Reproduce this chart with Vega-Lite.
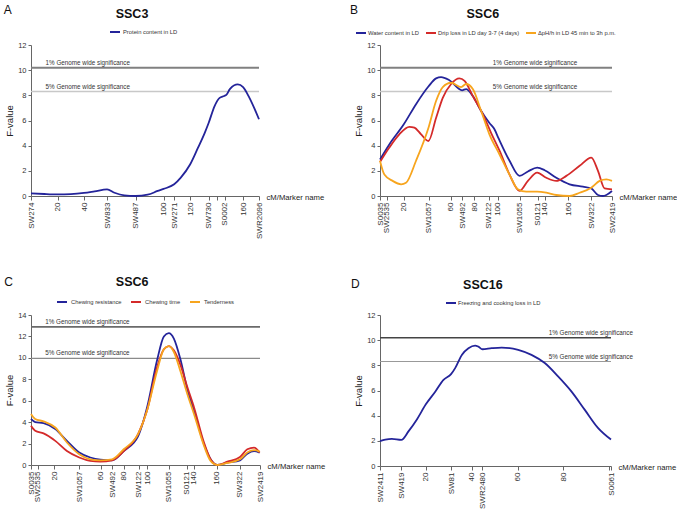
{
"$schema": "https://vega.github.io/schema/vega-lite/v6.json",
"padding": {"left": 3, "top": 3, "right": 0, "bottom": 0},
"bounds": "flush",
"columns": 2,
"spacing": {"row": 119, "column": 120},
"resolve": {"scale": {"color": "independent"}, "legend": {"color": "independent"}},
"config": {
  "font": "Liberation Sans",
  "view": {"stroke": null},
  "axis": {"grid": false, "domainColor": "#666", "tickColor": "#666", "labelColor": "#333", "titleColor": "#222", "titleFontWeight": "normal", "labelFontSize": 7.5, "tickSize": 3, "labelOverlap": false, "format": "d"},
  "axisX": {"labelAngle": 270, "labelFontSize": 8, "tickSize": 4, "labelPadding": 2, "titleFontSize": 7.7, "titleAngle": 0, "titleAlign": "left", "titleBaseline": "middle", "titleY": 1, "labelOverlap": false, "labelFlush": false, "format": "d"},
  "axisY": {"titleFontSize": 9.5, "titlePadding": 3, "labelPadding": 2, "format": "d"},
  "legend": {"labelFontSize": 5.8, "labelColor": "#333", "symbolType": "stroke", "symbolStrokeWidth": 2, "symbolSize": 100, "padding": 0, "orient": "none", "direction": "horizontal"}
},
"datasets": {
"thr": [
 {"p":"A","lv":"1%","F":10.2,"label":"1% Genome wide significance"},
 {"p":"A","lv":"5%","F":8.3,"label":"5% Genome wide significance"},
 {"p":"B","lv":"1%","F":10.2,"label":"1% Genome wide significance"},
 {"p":"B","lv":"5%","F":8.3,"label":"5% Genome wide significance"},
 {"p":"C","lv":"1%","F":12.9,"label":"1% Genome wide significance"},
 {"p":"C","lv":"5%","F":9.95,"label":"5% Genome wide significance"},
 {"p":"D","lv":"1%","F":10.2,"label":"1% Genome wide significance"},
 {"p":"D","lv":"5%","F":8.3,"label":"5% Genome wide significance"}
],
"curves": [
 {"p":"A","t":"Protein content in LD","cM":0,"F":0.21},
 {"p":"A","t":"Protein content in LD","cM":10,"F":0.16},
 {"p":"A","t":"Protein content in LD","cM":20,"F":0.13},
 {"p":"A","t":"Protein content in LD","cM":30,"F":0.15},
 {"p":"A","t":"Protein content in LD","cM":40,"F":0.24},
 {"p":"A","t":"Protein content in LD","cM":48,"F":0.37},
 {"p":"A","t":"Protein content in LD","cM":57.4,"F":0.53},
 {"p":"A","t":"Protein content in LD","cM":63,"F":0.26},
 {"p":"A","t":"Protein content in LD","cM":70.4,"F":0.05},
 {"p":"A","t":"Protein content in LD","cM":79,"F":0},
 {"p":"A","t":"Protein content in LD","cM":88,"F":0.1},
 {"p":"A","t":"Protein content in LD","cM":95.6,"F":0.4},
 {"p":"A","t":"Protein content in LD","cM":100,"F":0.56},
 {"p":"A","t":"Protein content in LD","cM":108,"F":0.93},
 {"p":"A","t":"Protein content in LD","cM":113,"F":1.46},
 {"p":"A","t":"Protein content in LD","cM":120,"F":2.5},
 {"p":"A","t":"Protein content in LD","cM":126,"F":3.84},
 {"p":"A","t":"Protein content in LD","cM":131,"F":5.0},
 {"p":"A","t":"Protein content in LD","cM":134,"F":5.8},
 {"p":"A","t":"Protein content in LD","cM":138.5,"F":7.15},
 {"p":"A","t":"Protein content in LD","cM":142.3,"F":7.8},
 {"p":"A","t":"Protein content in LD","cM":145.7,"F":7.95},
 {"p":"A","t":"Protein content in LD","cM":147.5,"F":8.05},
 {"p":"A","t":"Protein content in LD","cM":150,"F":8.5},
 {"p":"A","t":"Protein content in LD","cM":156,"F":8.87},
 {"p":"A","t":"Protein content in LD","cM":160,"F":8.66},
 {"p":"A","t":"Protein content in LD","cM":164.8,"F":7.8},
 {"p":"A","t":"Protein content in LD","cM":172,"F":6.1},

 {"p":"B","t":"Water content in LD","cM":0,"F":2.9},
 {"p":"B","t":"Water content in LD","cM":7.9,"F":4.1},
 {"p":"B","t":"Water content in LD","cM":20.2,"F":5.7},
 {"p":"B","t":"Water content in LD","cM":30.6,"F":7.3},
 {"p":"B","t":"Water content in LD","cM":41.1,"F":8.7},
 {"p":"B","t":"Water content in LD","cM":47.6,"F":9.35},
 {"p":"B","t":"Water content in LD","cM":51.9,"F":9.45},
 {"p":"B","t":"Water content in LD","cM":58.9,"F":9.2},
 {"p":"B","t":"Water content in LD","cM":69.7,"F":8.4},
 {"p":"B","t":"Water content in LD","cM":73.1,"F":8.5},
 {"p":"B","t":"Water content in LD","cM":78.8,"F":7.95},
 {"p":"B","t":"Water content in LD","cM":85.9,"F":6.75},
 {"p":"B","t":"Water content in LD","cM":92.9,"F":5.8},
 {"p":"B","t":"Water content in LD","cM":97.2,"F":5.3},
 {"p":"B","t":"Water content in LD","cM":100.6,"F":4.6},
 {"p":"B","t":"Water content in LD","cM":110,"F":2.8},
 {"p":"B","t":"Water content in LD","cM":118.5,"F":1.6},
 {"p":"B","t":"Water content in LD","cM":125.6,"F":1.95},
 {"p":"B","t":"Water content in LD","cM":133.5,"F":2.25},
 {"p":"B","t":"Water content in LD","cM":139.8,"F":2.05},
 {"p":"B","t":"Water content in LD","cM":149.7,"F":1.45},
 {"p":"B","t":"Water content in LD","cM":161,"F":0.93},
 {"p":"B","t":"Water content in LD","cM":172.3,"F":0.74},
 {"p":"B","t":"Water content in LD","cM":179.4,"F":0.6},
 {"p":"B","t":"Water content in LD","cM":185.1,"F":0.08},
 {"p":"B","t":"Water content in LD","cM":189.3,"F":0},
 {"p":"B","t":"Water content in LD","cM":192.2,"F":0.08},
 {"p":"B","t":"Water content in LD","cM":197,"F":0.4},

 {"p":"B","t":"Drip loss in LD day 3-7 (4 days)","cM":0,"F":2.7},
 {"p":"B","t":"Drip loss in LD day 3-7 (4 days)","cM":7.9,"F":3.85},
 {"p":"B","t":"Drip loss in LD day 3-7 (4 days)","cM":16.4,"F":4.9},
 {"p":"B","t":"Drip loss in LD day 3-7 (4 days)","cM":24.9,"F":5.5},
 {"p":"B","t":"Drip loss in LD day 3-7 (4 days)","cM":29.2,"F":5.43},
 {"p":"B","t":"Drip loss in LD day 3-7 (4 days)","cM":34.9,"F":4.9},
 {"p":"B","t":"Drip loss in LD day 3-7 (4 days)","cM":41.1,"F":4.37},
 {"p":"B","t":"Drip loss in LD day 3-7 (4 days)","cM":47.6,"F":6.2},
 {"p":"B","t":"Drip loss in LD day 3-7 (4 days)","cM":53.3,"F":7.8},
 {"p":"B","t":"Drip loss in LD day 3-7 (4 days)","cM":60.4,"F":8.9},
 {"p":"B","t":"Drip loss in LD day 3-7 (4 days)","cM":67.4,"F":9.35},
 {"p":"B","t":"Drip loss in LD day 3-7 (4 days)","cM":71.8,"F":9.15},
 {"p":"B","t":"Drip loss in LD day 3-7 (4 days)","cM":78.8,"F":7.95},
 {"p":"B","t":"Drip loss in LD day 3-7 (4 days)","cM":87.3,"F":6.5},
 {"p":"B","t":"Drip loss in LD day 3-7 (4 days)","cM":94.4,"F":5.0},
 {"p":"B","t":"Drip loss in LD day 3-7 (4 days)","cM":101.5,"F":3.6},
 {"p":"B","t":"Drip loss in LD day 3-7 (4 days)","cM":110,"F":1.7},
 {"p":"B","t":"Drip loss in LD day 3-7 (4 days)","cM":118.5,"F":0.4},
 {"p":"B","t":"Drip loss in LD day 3-7 (4 days)","cM":125.6,"F":1.2},
 {"p":"B","t":"Drip loss in LD day 3-7 (4 days)","cM":133.5,"F":1.85},
 {"p":"B","t":"Drip loss in LD day 3-7 (4 days)","cM":141.2,"F":1.45},
 {"p":"B","t":"Drip loss in LD day 3-7 (4 days)","cM":149.7,"F":1.2},
 {"p":"B","t":"Drip loss in LD day 3-7 (4 days)","cM":158.2,"F":1.6},
 {"p":"B","t":"Drip loss in LD day 3-7 (4 days)","cM":169.5,"F":2.4},
 {"p":"B","t":"Drip loss in LD day 3-7 (4 days)","cM":179.4,"F":3.05},
 {"p":"B","t":"Drip loss in LD day 3-7 (4 days)","cM":185.1,"F":2.0},
 {"p":"B","t":"Drip loss in LD day 3-7 (4 days)","cM":190.7,"F":0.6},
 {"p":"B","t":"Drip loss in LD day 3-7 (4 days)","cM":197,"F":0.53},

 {"p":"B","t":"ΔpH/h in LD 45 min to 3h p.m.","cM":0,"F":2.8},
 {"p":"B","t":"ΔpH/h in LD 45 min to 3h p.m.","cM":3.7,"F":1.7},
 {"p":"B","t":"ΔpH/h in LD 45 min to 3h p.m.","cM":10.7,"F":1.2},
 {"p":"B","t":"ΔpH/h in LD 45 min to 3h p.m.","cM":17.9,"F":0.93},
 {"p":"B","t":"ΔpH/h in LD 45 min to 3h p.m.","cM":22.1,"F":1.05},
 {"p":"B","t":"ΔpH/h in LD 45 min to 3h p.m.","cM":30.6,"F":2.8},
 {"p":"B","t":"ΔpH/h in LD 45 min to 3h p.m.","cM":41.1,"F":5.4},
 {"p":"B","t":"ΔpH/h in LD 45 min to 3h p.m.","cM":47.6,"F":7.55},
 {"p":"B","t":"ΔpH/h in LD 45 min to 3h p.m.","cM":53.3,"F":8.66},
 {"p":"B","t":"ΔpH/h in LD 45 min to 3h p.m.","cM":60.4,"F":9.0},
 {"p":"B","t":"ΔpH/h in LD 45 min to 3h p.m.","cM":68.9,"F":8.66},
 {"p":"B","t":"ΔpH/h in LD 45 min to 3h p.m.","cM":73.1,"F":8.9},
 {"p":"B","t":"ΔpH/h in LD 45 min to 3h p.m.","cM":78.8,"F":8.5},
 {"p":"B","t":"ΔpH/h in LD 45 min to 3h p.m.","cM":85.9,"F":6.75},
 {"p":"B","t":"ΔpH/h in LD 45 min to 3h p.m.","cM":92.9,"F":4.9},
 {"p":"B","t":"ΔpH/h in LD 45 min to 3h p.m.","cM":101.5,"F":3.3},
 {"p":"B","t":"ΔpH/h in LD 45 min to 3h p.m.","cM":110,"F":1.7},
 {"p":"B","t":"ΔpH/h in LD 45 min to 3h p.m.","cM":117.1,"F":0.53},
 {"p":"B","t":"ΔpH/h in LD 45 min to 3h p.m.","cM":124.2,"F":0.34},
 {"p":"B","t":"ΔpH/h in LD 45 min to 3h p.m.","cM":133.5,"F":0.34},
 {"p":"B","t":"ΔpH/h in LD 45 min to 3h p.m.","cM":141.2,"F":0.26},
 {"p":"B","t":"ΔpH/h in LD 45 min to 3h p.m.","cM":149.7,"F":0.08},
 {"p":"B","t":"ΔpH/h in LD 45 min to 3h p.m.","cM":161,"F":0},
 {"p":"B","t":"ΔpH/h in LD 45 min to 3h p.m.","cM":169.5,"F":0.26},
 {"p":"B","t":"ΔpH/h in LD 45 min to 3h p.m.","cM":179.4,"F":0.66},
 {"p":"B","t":"ΔpH/h in LD 45 min to 3h p.m.","cM":186.5,"F":1.2},
 {"p":"B","t":"ΔpH/h in LD 45 min to 3h p.m.","cM":192.2,"F":1.32},
 {"p":"B","t":"ΔpH/h in LD 45 min to 3h p.m.","cM":197,"F":1.2},

 {"p":"C","t":"Chewing resistance","cM":0,"F":4.3},
 {"p":"C","t":"Chewing resistance","cM":3.6,"F":4.0},
 {"p":"C","t":"Chewing resistance","cM":10.8,"F":3.9},
 {"p":"C","t":"Chewing resistance","cM":20.9,"F":3.35},
 {"p":"C","t":"Chewing resistance","cM":30.9,"F":2.25},
 {"p":"C","t":"Chewing resistance","cM":41.5,"F":1.16},
 {"p":"C","t":"Chewing resistance","cM":51,"F":0.7},
 {"p":"C","t":"Chewing resistance","cM":59.7,"F":0.5},
 {"p":"C","t":"Chewing resistance","cM":69.7,"F":0.44},
 {"p":"C","t":"Chewing resistance","cM":79.8,"F":1.3},
 {"p":"C","t":"Chewing resistance","cM":92.2,"F":2.7},
 {"p":"C","t":"Chewing resistance","cM":99.9,"F":5.4},
 {"p":"C","t":"Chewing resistance","cM":108.5,"F":9.8},
 {"p":"C","t":"Chewing resistance","cM":114.3,"F":12.0},
 {"p":"C","t":"Chewing resistance","cM":118.5,"F":12.3},
 {"p":"C","t":"Chewing resistance","cM":122.9,"F":11.8},
 {"p":"C","t":"Chewing resistance","cM":128.7,"F":9.8},
 {"p":"C","t":"Chewing resistance","cM":134.4,"F":7.1},
 {"p":"C","t":"Chewing resistance","cM":140.2,"F":5.1},
 {"p":"C","t":"Chewing resistance","cM":148.8,"F":1.95},
 {"p":"C","t":"Chewing resistance","cM":154.5,"F":0.53},
 {"p":"C","t":"Chewing resistance","cM":160.3,"F":0},
 {"p":"C","t":"Chewing resistance","cM":168.9,"F":0.22},
 {"p":"C","t":"Chewing resistance","cM":179.8,"F":0.44},
 {"p":"C","t":"Chewing resistance","cM":186.1,"F":1.06},
 {"p":"C","t":"Chewing resistance","cM":191.9,"F":1.3},
 {"p":"C","t":"Chewing resistance","cM":196.7,"F":1.16},

 {"p":"C","t":"Chewing time","cM":0,"F":3.66},
 {"p":"C","t":"Chewing time","cM":3.6,"F":3.2},
 {"p":"C","t":"Chewing time","cM":10.8,"F":2.95},
 {"p":"C","t":"Chewing time","cM":20.9,"F":2.25},
 {"p":"C","t":"Chewing time","cM":30.9,"F":1.3},
 {"p":"C","t":"Chewing time","cM":41.5,"F":0.7},
 {"p":"C","t":"Chewing time","cM":51,"F":0.38},
 {"p":"C","t":"Chewing time","cM":59.7,"F":0.31},
 {"p":"C","t":"Chewing time","cM":69.7,"F":0.44},
 {"p":"C","t":"Chewing time","cM":79.8,"F":1.3},
 {"p":"C","t":"Chewing time","cM":92.2,"F":2.9},
 {"p":"C","t":"Chewing time","cM":99.9,"F":5.1},
 {"p":"C","t":"Chewing time","cM":108.5,"F":9.15},
 {"p":"C","t":"Chewing time","cM":114.3,"F":10.8},
 {"p":"C","t":"Chewing time","cM":118.5,"F":11.1},
 {"p":"C","t":"Chewing time","cM":122.9,"F":10.7},
 {"p":"C","t":"Chewing time","cM":128.7,"F":9.3},
 {"p":"C","t":"Chewing time","cM":134.4,"F":7.3},
 {"p":"C","t":"Chewing time","cM":140.2,"F":5.4},
 {"p":"C","t":"Chewing time","cM":148.8,"F":2.1},
 {"p":"C","t":"Chewing time","cM":154.5,"F":0.53},
 {"p":"C","t":"Chewing time","cM":160.3,"F":0},
 {"p":"C","t":"Chewing time","cM":168.9,"F":0.31},
 {"p":"C","t":"Chewing time","cM":179.8,"F":0.75},
 {"p":"C","t":"Chewing time","cM":186.1,"F":1.47},
 {"p":"C","t":"Chewing time","cM":191.9,"F":1.63},
 {"p":"C","t":"Chewing time","cM":196.7,"F":1.16},

 {"p":"C","t":"Tenderness","cM":0,"F":4.76},
 {"p":"C","t":"Tenderness","cM":3.6,"F":4.3},
 {"p":"C","t":"Tenderness","cM":10.8,"F":4.07},
 {"p":"C","t":"Tenderness","cM":20.9,"F":3.5},
 {"p":"C","t":"Tenderness","cM":30.9,"F":2.1},
 {"p":"C","t":"Tenderness","cM":41.5,"F":1.0},
 {"p":"C","t":"Tenderness","cM":51,"F":0.53},
 {"p":"C","t":"Tenderness","cM":59.7,"F":0.44},
 {"p":"C","t":"Tenderness","cM":69.7,"F":0.53},
 {"p":"C","t":"Tenderness","cM":79.8,"F":1.47},
 {"p":"C","t":"Tenderness","cM":92.2,"F":2.9},
 {"p":"C","t":"Tenderness","cM":99.9,"F":5.1},
 {"p":"C","t":"Tenderness","cM":108.5,"F":8.8},
 {"p":"C","t":"Tenderness","cM":114.3,"F":10.8},
 {"p":"C","t":"Tenderness","cM":118.5,"F":11.1},
 {"p":"C","t":"Tenderness","cM":122.9,"F":10.55},
 {"p":"C","t":"Tenderness","cM":128.7,"F":8.7},
 {"p":"C","t":"Tenderness","cM":134.4,"F":6.65},
 {"p":"C","t":"Tenderness","cM":140.2,"F":4.76},
 {"p":"C","t":"Tenderness","cM":148.8,"F":1.8},
 {"p":"C","t":"Tenderness","cM":154.5,"F":0.38},
 {"p":"C","t":"Tenderness","cM":160.3,"F":0},
 {"p":"C","t":"Tenderness","cM":168.9,"F":0.19},
 {"p":"C","t":"Tenderness","cM":179.8,"F":0.53},
 {"p":"C","t":"Tenderness","cM":186.1,"F":1.16},
 {"p":"C","t":"Tenderness","cM":191.9,"F":1.38},
 {"p":"C","t":"Tenderness","cM":196.7,"F":1.25},

 {"p":"D","t":"Freezing and cooking loss in LD","cM":0,"F":1.98},
 {"p":"D","t":"Freezing and cooking loss in LD","cM":2.3,"F":2.1},
 {"p":"D","t":"Freezing and cooking loss in LD","cM":5.2,"F":2.16},
 {"p":"D","t":"Freezing and cooking loss in LD","cM":9.3,"F":2.08},
 {"p":"D","t":"Freezing and cooking loss in LD","cM":12.5,"F":2.77},
 {"p":"D","t":"Freezing and cooking loss in LD","cM":16.1,"F":3.7},
 {"p":"D","t":"Freezing and cooking loss in LD","cM":20,"F":4.9},
 {"p":"D","t":"Freezing and cooking loss in LD","cM":24.1,"F":5.9},
 {"p":"D","t":"Freezing and cooking loss in LD","cM":27.7,"F":6.85},
 {"p":"D","t":"Freezing and cooking loss in LD","cM":31,"F":7.3},
 {"p":"D","t":"Freezing and cooking loss in LD","cM":32.8,"F":7.78},
 {"p":"D","t":"Freezing and cooking loss in LD","cM":35.7,"F":8.83},
 {"p":"D","t":"Freezing and cooking loss in LD","cM":38.6,"F":9.36},
 {"p":"D","t":"Freezing and cooking loss in LD","cM":41.5,"F":9.57},
 {"p":"D","t":"Freezing and cooking loss in LD","cM":42.9,"F":9.49},
 {"p":"D","t":"Freezing and cooking loss in LD","cM":44.7,"F":9.28},
 {"p":"D","t":"Freezing and cooking loss in LD","cM":48.7,"F":9.36},
 {"p":"D","t":"Freezing and cooking loss in LD","cM":53.1,"F":9.41},
 {"p":"D","t":"Freezing and cooking loss in LD","cM":60.3,"F":9.23},
 {"p":"D","t":"Freezing and cooking loss in LD","cM":66.1,"F":8.83},
 {"p":"D","t":"Freezing and cooking loss in LD","cM":71.9,"F":8.18},
 {"p":"D","t":"Freezing and cooking loss in LD","cM":77.7,"F":7.12},
 {"p":"D","t":"Freezing and cooking loss in LD","cM":83.5,"F":5.93},
 {"p":"D","t":"Freezing and cooking loss in LD","cM":89.3,"F":4.48},
 {"p":"D","t":"Freezing and cooking loss in LD","cM":95.1,"F":3.03},
 {"p":"D","t":"Freezing and cooking loss in LD","cM":100.8,"F":2.1}
]
},
"concat": [
{
 "width": 228, "height": 151,
 "layer": [
  {"data": {"name": "thr"}, "transform": [{"filter": "datum.p=='A' && datum.lv=='1%'"}],
   "mark": {"type": "rule", "color": "#808080", "strokeWidth": 2},
   "encoding": {"y": {"field": "F", "type": "quantitative", "scale": {"domain": [0, 12], "nice": false}, "axis": {"values": [0,2,4,6,8,10,12], "tickCount": 50, "format": "d", "title": "F-value", "labelOverlap": false}}}},
  {"data": {"name": "thr"}, "transform": [{"filter": "datum.p=='A' && datum.lv=='5%'"}],
   "mark": {"type": "rule", "color": "#c8c8c8", "strokeWidth": 1.5},
   "encoding": {"y": {"field": "F", "type": "quantitative"}}},
  {"data": {"name": "curves"}, "transform": [{"filter": "datum.p=='A'"}],
   "mark": {"type": "line", "interpolate": "monotone", "strokeWidth": 1.8},
   "encoding": {
    "x": {"field": "cM", "type": "quantitative", "scale": {"domain": [0, 172], "nice": false, "zero": false},
      "axis": {"title": "cM/Marker name", "titleX": 235, "tickCount": 50, "labelOverlap": false, "values": [0,20,40,57.4,79,100,108,120,134,140,146,160,172],
        "labelExpr": "datum.value==0?'SW274':datum.value==57.4?'SW833':datum.value==79?'SW487':datum.value==108?'SW271':datum.value==134?'SW730':datum.value==140?'':datum.value==146?'S0002':datum.value==172?'SWR2096':datum.label"}},
    "y": {"field": "F", "type": "quantitative", "scale": {"domain": [0, 12], "nice": false}, "axis": {"values": [0,2,4,6,8,10,12], "tickCount": 50, "format": "d", "title": "F-value", "labelOverlap": false}},
    "color": {"field": "t", "type": "nominal", "scale": {"domain": ["Protein content in LD"], "range": ["#24249a"]},
      "legend": {"title": null, "legendX": 78, "legendY": -19, "labelOffset": 2}}}},
  {"data": {"name": "thr"}, "transform": [{"filter": "datum.p=='A'"}],
   "mark": {"type": "text", "align": "left", "baseline": "alphabetic", "dy": -3, "fontSize": 6.3, "color": "#333"},
   "encoding": {"x": {"datum": 11}, "y": {"field": "F", "type": "quantitative"}, "text": {"field": "label"}}},
  {"data": {"values": [{"s": "A"}]},
   "mark": {"type": "text", "align": "left", "baseline": "alphabetic", "fontSize": 12, "color": "#111"},
   "encoding": {"x": {"datum": -20.6}, "y": {"datum": 14.49}, "text": {"field": "s"}}},
  {"data": {"values": [{"s": "SSC3"}]},
   "mark": {"type": "text", "align": "center", "baseline": "alphabetic", "fontSize": 12.5, "fontWeight": "bold", "color": "#111"},
   "encoding": {"x": {"datum": 76.2}, "y": {"datum": 14.17}, "text": {"field": "s"}}}
 ]
},
{
 "width": 232, "height": 151,
 "layer": [
  {"data": {"name": "thr"}, "transform": [{"filter": "datum.p=='B' && datum.lv=='1%'"}],
   "mark": {"type": "rule", "color": "#808080", "strokeWidth": 2},
   "encoding": {"y": {"field": "F", "type": "quantitative", "scale": {"domain": [0, 12], "nice": false}, "axis": {"values": [0,2,4,6,8,10,12], "tickCount": 50, "format": "d", "title": "F-value", "labelOverlap": false}}}},
  {"data": {"name": "thr"}, "transform": [{"filter": "datum.p=='B' && datum.lv=='5%'"}],
   "mark": {"type": "rule", "color": "#c8c8c8", "strokeWidth": 1.5},
   "encoding": {"y": {"field": "F", "type": "quantitative"}}},
  {"data": {"name": "curves"}, "transform": [{"filter": "datum.p=='B'"}],
   "mark": {"type": "line", "interpolate": "monotone", "strokeWidth": 1.8},
   "encoding": {
    "x": {"field": "cM", "type": "quantitative", "scale": {"domain": [0, 197], "nice": false, "zero": false},
      "axis": {"title": "cM/Marker name", "titleX": 239, "tickCount": 50, "labelOverlap": false, "values": [0,5.8,20,41.5,60,69.7,80,92.5,100,118.5,134,140,160,179.5,197],
        "labelExpr": "datum.value==0?'S0035':datum.value==5.8?'SW2535':datum.value==41.5?'SW1057':datum.value==69.7?'SW492':datum.value==92.5?'SW122':datum.value==118.5?'SW1055':datum.value==134?'S0121':datum.value==179.5?'SW322':datum.value==197?'SW2419':datum.label"}},
    "y": {"field": "F", "type": "quantitative", "scale": {"domain": [0, 12], "nice": false}, "axis": {"values": [0,2,4,6,8,10,12], "tickCount": 50, "format": "d", "title": "F-value", "labelOverlap": false}},
    "color": {"field": "t", "type": "nominal", "scale": {"domain": ["Water content in LD", "Drip loss in LD day 3-7 (4 days)", "ΔpH/h in LD 45 min to 3h p.m."], "range": ["#24249a", "#d42a2a", "#f7a51e"]},
      "legend": {"title": null, "legendX": -25, "legendY": -18, "labelOffset": 1, "columnPadding": 2}}}},
  {"data": {"name": "thr"}, "transform": [{"filter": "datum.p=='B'"}],
   "mark": {"type": "text", "align": "left", "baseline": "alphabetic", "dy": -3, "fontSize": 6.3, "color": "#333"},
   "encoding": {"x": {"datum": 95.8}, "y": {"field": "F", "type": "quantitative"}, "text": {"field": "label"}}},
  {"data": {"values": [{"s": "B"}]},
   "mark": {"type": "text", "align": "left", "baseline": "alphabetic", "fontSize": 12, "color": "#111"},
   "encoding": {"x": {"datum": -25.5}, "y": {"datum": 14.49}, "text": {"field": "s"}}},
  {"data": {"values": [{"s": "SSC6"}]},
   "mark": {"type": "text", "align": "center", "baseline": "alphabetic", "fontSize": 12.5, "fontWeight": "bold", "color": "#111"},
   "encoding": {"x": {"datum": 87.3}, "y": {"datum": 14.17}, "text": {"field": "s"}}}
 ]
},
{
 "width": 229, "height": 150,
 "layer": [
  {"data": {"name": "thr"}, "transform": [{"filter": "datum.p=='C' && datum.lv=='1%'"}],
   "mark": {"type": "rule", "color": "#6a6a6a", "strokeWidth": 1.8},
   "encoding": {"y": {"field": "F", "type": "quantitative", "scale": {"domain": [0, 14], "nice": false}, "axis": {"values": [0,2,4,6,8,10,12,14], "tickCount": 50, "format": "d", "title": "F-value", "labelOverlap": false}}}},
  {"data": {"name": "thr"}, "transform": [{"filter": "datum.p=='C' && datum.lv=='5%'"}],
   "mark": {"type": "rule", "color": "#8a8a8a", "strokeWidth": 1.1},
   "encoding": {"y": {"field": "F", "type": "quantitative"}}},
  {"data": {"name": "curves"}, "transform": [{"filter": "datum.p=='C'"}],
   "mark": {"type": "line", "interpolate": "monotone", "strokeWidth": 1.8},
   "encoding": {
    "x": {"field": "cM", "type": "quantitative", "scale": {"domain": [0, 197], "nice": false, "zero": false},
      "axis": {"title": "cM/Marker name", "titleX": 236, "tickCount": 50, "labelOverlap": false, "values": [0,5.8,20,41.5,60,69.7,80,92.5,100,118.5,134,140,160,179.5,197],
        "labelExpr": "datum.value==0?'S0035':datum.value==5.8?'SW2535':datum.value==41.5?'SW1057':datum.value==69.7?'SW492':datum.value==92.5?'SW122':datum.value==118.5?'SW1055':datum.value==134?'S0121':datum.value==179.5?'SW322':datum.value==197?'SW2419':datum.label"}},
    "y": {"field": "F", "type": "quantitative", "scale": {"domain": [0, 14], "nice": false}, "axis": {"values": [0,2,4,6,8,10,12,14], "tickCount": 50, "format": "d", "title": "F-value", "labelOverlap": false}},
    "color": {"field": "t", "type": "nominal", "scale": {"domain": ["Chewing resistance", "Chewing time", "Tenderness"], "range": ["#24249a", "#d42a2a", "#f7a51e"]},
      "legend": {"title": null, "legendX": 25, "legendY": -19, "labelOffset": 3, "columnPadding": 5}}}},
  {"data": {"name": "thr"}, "transform": [{"filter": "datum.p=='C'"}],
   "mark": {"type": "text", "align": "left", "baseline": "alphabetic", "dy": -3, "fontSize": 6.3, "color": "#333"},
   "encoding": {"x": {"datum": 12.2}, "y": {"field": "F", "type": "quantitative"}, "text": {"field": "label"}}},
  {"data": {"values": [{"s": "C"}]},
   "mark": {"type": "text", "align": "left", "baseline": "alphabetic", "fontSize": 12, "color": "#111"},
   "encoding": {"x": {"datum": -23}, "y": {"datum": 16.72}, "text": {"field": "s"}}},
  {"data": {"values": [{"s": "SSC6"}]},
   "mark": {"type": "text", "align": "center", "baseline": "alphabetic", "fontSize": 12.5, "fontWeight": "bold", "color": "#111"},
   "encoding": {"x": {"datum": 87}, "y": {"datum": 16.72}, "text": {"field": "s"}}}
 ]
},
{
 "width": 231, "height": 151,
 "layer": [
  {"data": {"name": "thr"}, "transform": [{"filter": "datum.p=='D' && datum.lv=='1%'"}],
   "mark": {"type": "rule", "color": "#444444", "strokeWidth": 1.5},
   "encoding": {"y": {"field": "F", "type": "quantitative", "scale": {"domain": [0, 12], "nice": false}, "axis": {"values": [0,2,4,6,8,10,12], "tickCount": 50, "format": "d", "title": "F-value", "labelOverlap": false}}}},
  {"data": {"name": "thr"}, "transform": [{"filter": "datum.p=='D' && datum.lv=='5%'"}],
   "mark": {"type": "rule", "color": "#999999", "strokeWidth": 1.1},
   "encoding": {"y": {"field": "F", "type": "quantitative"}}},
  {"data": {"name": "curves"}, "transform": [{"filter": "datum.p=='D'"}],
   "mark": {"type": "line", "interpolate": "monotone", "strokeWidth": 1.8},
   "encoding": {
    "x": {"field": "cM", "type": "quantitative", "scale": {"domain": [0, 100.8], "nice": false, "zero": false},
      "axis": {"title": "cM/Marker name", "titleX": 238, "tickCount": 50, "labelOverlap": false, "values": [0,9.3,20,31,40,44.7,60,80,100,100.8],
        "labelExpr": "datum.value==0?'SW2411':datum.value==9.3?'SW419':datum.value==31?'SW81':datum.value==44.7?'SWR2480':datum.value==100?'':datum.value==100.8?'S0061':datum.label"}},
    "y": {"field": "F", "type": "quantitative", "scale": {"domain": [0, 12], "nice": false}, "axis": {"values": [0,2,4,6,8,10,12], "tickCount": 50, "format": "d", "title": "F-value", "labelOverlap": false}},
    "color": {"field": "t", "type": "nominal", "scale": {"domain": ["Freezing and cooking loss in LD"], "range": ["#24249a"]},
      "legend": {"title": null, "legendX": 65, "legendY": -18, "labelOffset": 1}}}},
  {"data": {"name": "thr"}, "transform": [{"filter": "datum.p=='D'"}],
   "mark": {"type": "text", "align": "left", "baseline": "alphabetic", "dy": -3, "fontSize": 6.3, "color": "#333"},
   "encoding": {"x": {"datum": 73.6}, "y": {"field": "F", "type": "quantitative"}, "text": {"field": "label"}}},
  {"data": {"values": [{"s": "D"}]},
   "mark": {"type": "text", "align": "left", "baseline": "alphabetic", "fontSize": 12, "color": "#111"},
   "encoding": {"x": {"datum": -12.7}, "y": {"datum": 14.12}, "text": {"field": "s"}}},
  {"data": {"values": [{"s": "SSC16"}]},
   "mark": {"type": "text", "align": "center", "baseline": "alphabetic", "fontSize": 12.5, "fontWeight": "bold", "color": "#111"},
   "encoding": {"x": {"datum": 44.9}, "y": {"datum": 14.1}, "text": {"field": "s"}}}
 ]
}
]
}
